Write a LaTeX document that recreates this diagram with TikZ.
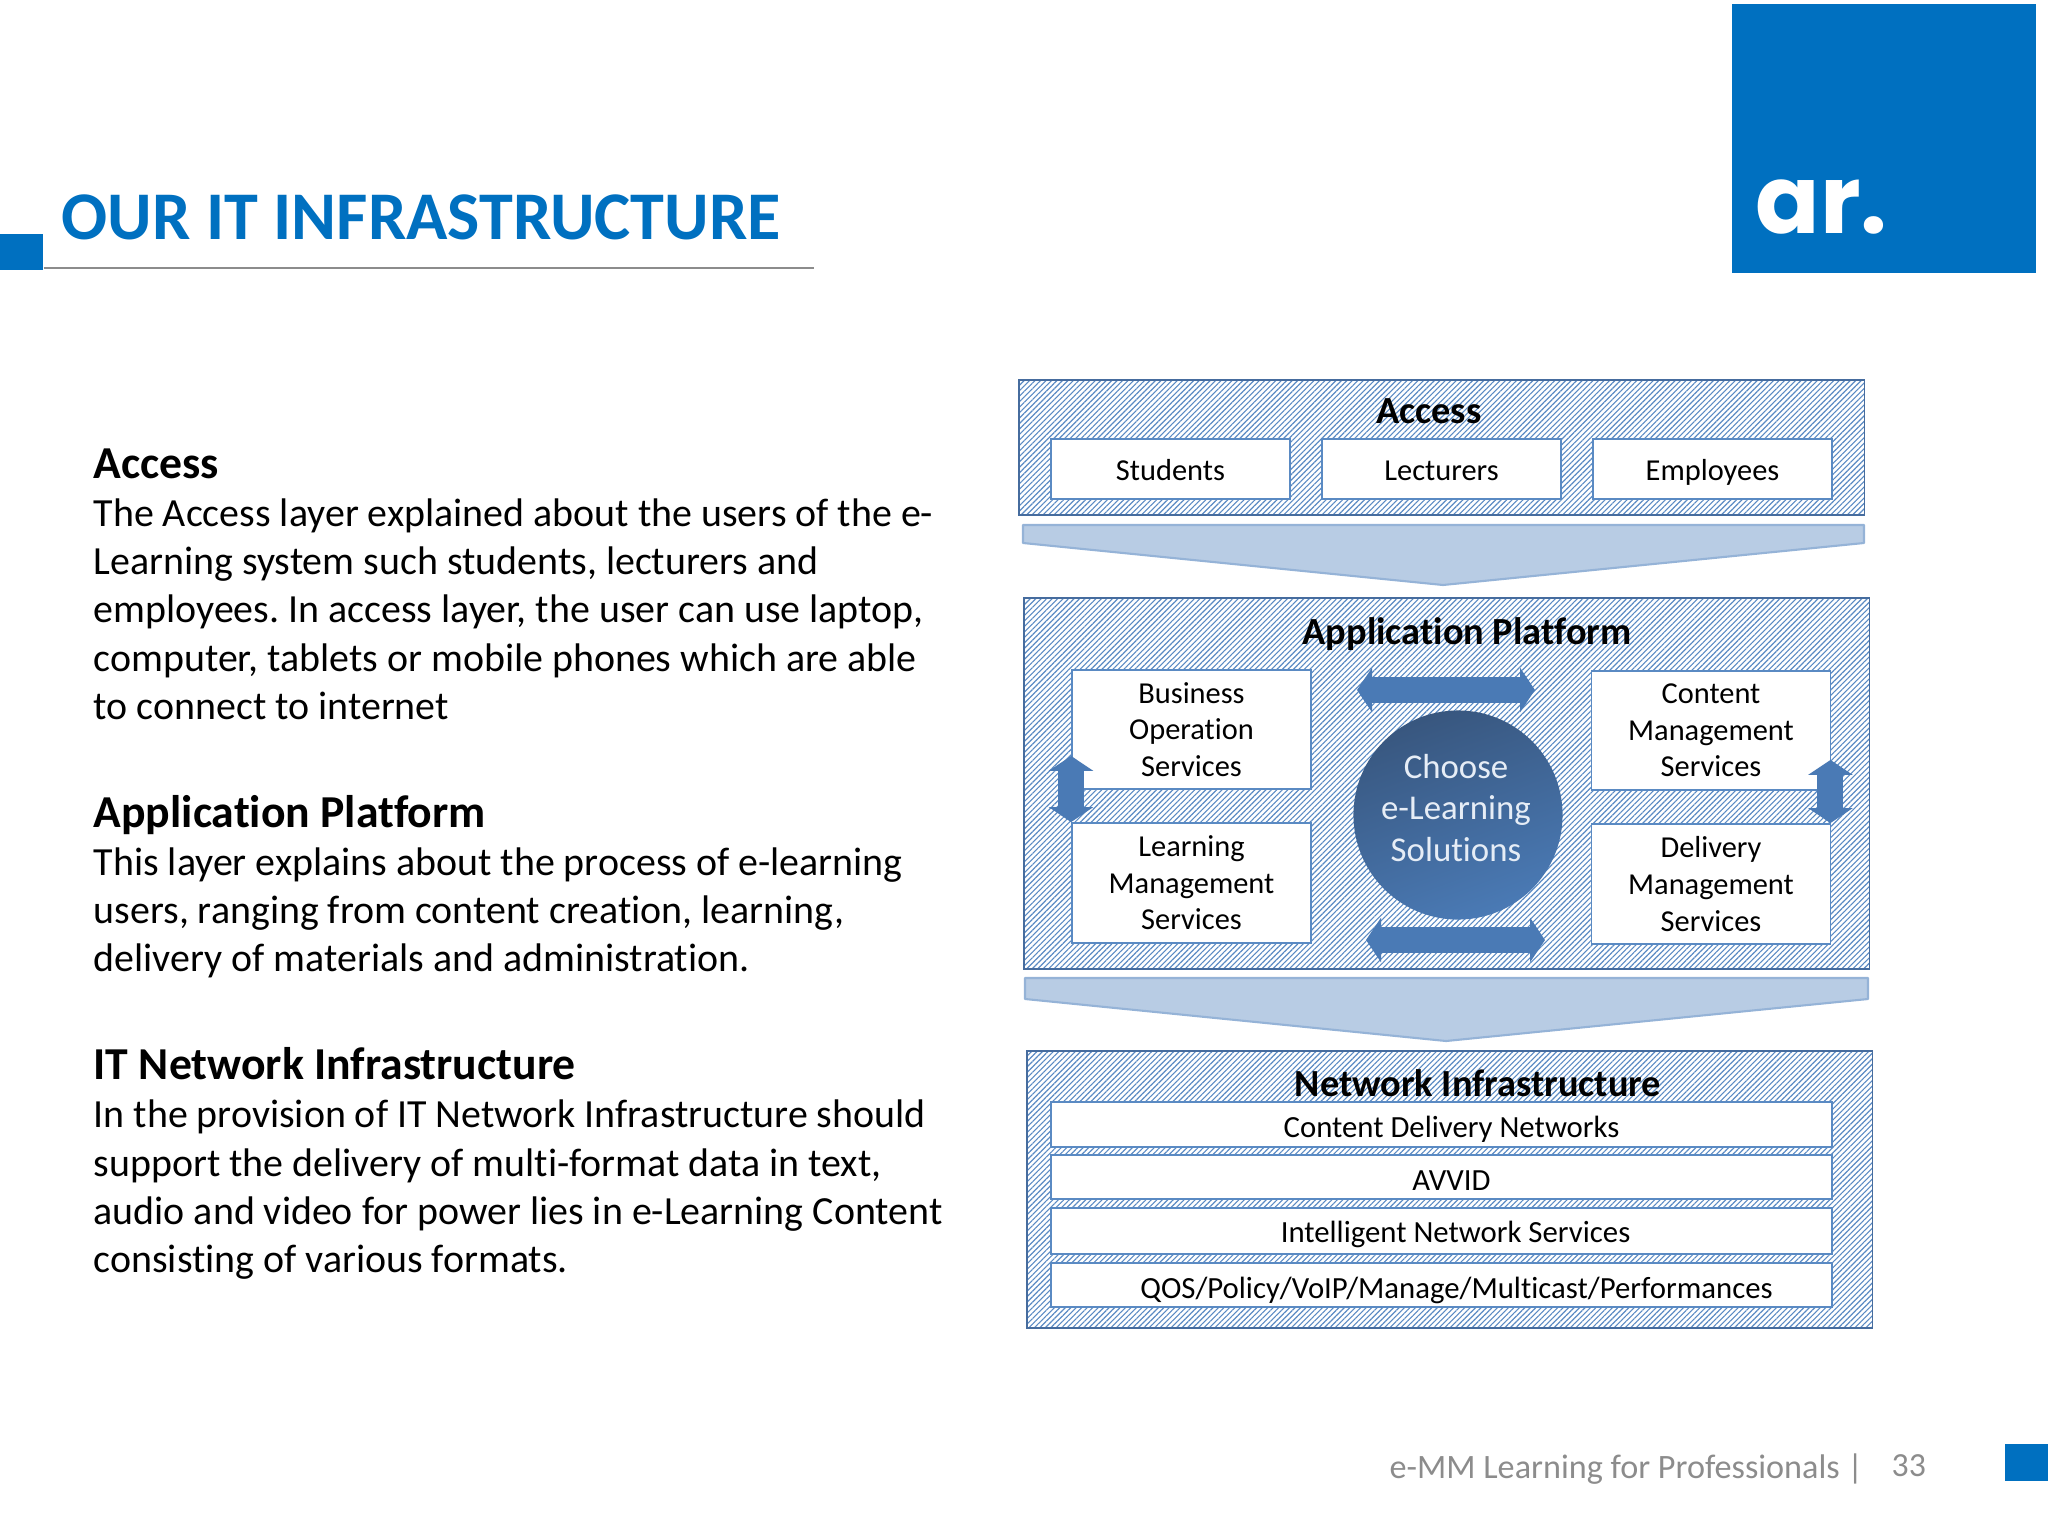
\documentclass[tikz,border=0pt]{standalone}
\usepackage{fontspec}
\setmainfont{Carlito}[Ligatures={NoCommon}]
\newfontfamily\logofont{Poppins}
\usetikzlibrary{arrows.meta, positioning, calc, patterns.meta, shapes.geometric}
\definecolor{brand}{RGB}{0, 112, 192}
\definecolor{hatchC}{RGB}{90, 138, 195}
\definecolor{edgeC}{RGB}{70, 108, 158}
\definecolor{chevC}{RGB}{184, 204, 228}
\definecolor{chevE}{RGB}{149, 179, 215}
\definecolor{arrowC}{RGB}{74, 122, 181}
\definecolor{footC}{RGB}{140, 140, 140}
\newcommand{\bodysize}{\fontsize{11.35pt}{13.7pt}\selectfont}
\newcommand{\headsize}{\fontsize{13pt}{13.7pt}\selectfont\bfseries}
\frenchspacing

\begin{document}
\begin{tikzpicture}[x=0.01cm, y=-0.01cm, font=\fontsize{8.65pt}{10.4pt}\selectfont,
        layer/.style={rectangle, draw=edgeC, line width=0.42pt, inner sep=0pt,
                  pattern={Lines[angle=45,distance=1.1pt,line width=0.32pt]}, pattern color=hatchC},
        item/.style={rectangle, draw=hatchC, line width=0.5pt, fill=white, inner sep=0pt, align=center,
                  minimum width=2.39cm},
        row/.style={item, minimum width=7.81cm, text height=9.2pt, text depth=1.6pt, font=\fontsize{8.75pt}{10pt}\selectfont},
        ltitle/.style={inner sep=0pt, font=\fontsize{10.9pt}{12pt}\selectfont\bfseries},
        chev/.style={draw=chevE, line width=0.6pt, fill=chevC, line join=round},
        dbl/.style={draw=arrowC, line width=0.26cm, {Triangle[length=0.15cm,width=0.44cm]}-{Triangle[length=0.15cm,width=0.44cm]}},
        para/.style={inner sep=0pt, anchor=north west, align=left, font=\bodysize}]
        \useasboundingbox (0,0) rectangle (2048,1536);

        \node[fill=brand, inner sep=0pt, minimum width=3.04cm, minimum height=2.69cm] (logo) at (1884,138.5) {};
        \node[inner sep=0pt, anchor=base west, text=white, font=\fontsize{27pt}{27pt}\logofont\bfseries] (logotext) at (1755,233) {ar.};
        \node[fill=brand, inner sep=0pt, minimum width=0.43cm, minimum height=0.36cm] (mark) at (21.5,252) {};
        \node[inner sep=0pt, anchor=base west, text=brand, font=\fontsize{19.4pt}{22pt}\selectfont\bfseries] (title) at (61,239) {OUR IT INFRASTRUCTURE};
        \coordinate (ruleEnd) at (814,268);
        \draw[footC, line width=0.55pt] (mark.south east |- ruleEnd) -- (ruleEnd);

        \node[para] (pAccess) at (93,448) {{\headsize Access}\\The Access layer explained about the users of the e-\\Learning system such students, lecturers and\\employees. In access layer, the user can use laptop,\\computer, tablets or mobile phones which are able\\to connect to internet};
        \node[para] (pApp) at (93,794.5) {{\headsize Application Platform}\\This layer explains about the process of e-learning\\users, ranging from content creation, learning,\\delivery of materials and administration.};
        \node[para] (pNet) at (93,1047) {{\headsize IT Network Infrastructure}\\In the provision of IT Network Infrastructure should\\support the delivery of multi-format data in text,\\audio and video for power lies in e-Learning Content\\consisting of various formats.};

        \node[layer, minimum width=8.45cm, minimum height=1.35cm] (access) at (1441.5,447.5) {};
        \node[ltitle] (accessT) at (1429,411) {Access};
        \node[item, minimum height=0.60cm, text height=8.5pt, text depth=1.8pt] (students) at (1170.5,469) {Students};
        \node[item, minimum height=0.60cm, text height=8.5pt, text depth=1.8pt] (lecturers) at (1441.5,469) {Lecturers};
        \node[item, minimum height=0.60cm, text height=8.5pt, text depth=1.8pt] (employees) at (1712.5,469) {Employees};

        \draw[chev] (1023,525) -- (1864,525) -- (1864,543) -- (1443,585) -- (1023,543) -- cycle;

        \node[layer, minimum width=8.45cm, minimum height=3.71cm] (app) at (1446.5,783.5) {};
        \node[ltitle] (appT) at (1467,634) {Application Platform};
        \node[item, minimum height=1.19cm] (business) at (1191.5,729.5) {Business\\Operation\\Services};
        \node[item, minimum height=1.19cm] (content) at (1711,730.5) {Content\\Management\\Services};
        \node[item, minimum height=1.20cm] (learning) at (1191.5,883) {Learning\\Management\\Services};
        \node[item, minimum height=1.20cm] (delivery) at (1711,884) {Delivery\\Management\\Services};
        \node[circle, inner sep=0pt, minimum size=2.09cm, draw=none, left color=edgeC!80!black, right color=arrowC, shading angle=20] (choose) at (1458,815) {};
        \node[inner sep=0pt, text=white!85!hatchC, align=center, font=\fontsize{9.9pt}{11.7pt}\selectfont] (chooseT) at (1456,808) {Choose\\e-Learning\\Solutions};

        \coordinate (topL) at (1357,690);
        \coordinate (topR) at (1535,690);
        \coordinate (botL) at (1366,940);
        \coordinate (botR) at (1545,940);
        \draw[dbl] (topL) -- (topR);
        \draw[dbl] (botL) -- (botR);
        \draw[dbl] ($(business.south west)+(0,-34)$) -- (learning.north west);
        \draw[dbl] ($(content.south east)+(-1,-31)$) -- ($(delivery.north east)+(-1,0)$);

        \draw[chev] (1025,978) -- (1868,978) -- (1868,999) -- (1446,1041) -- (1025,999) -- cycle;

        \node[layer, minimum width=8.45cm, minimum height=2.77cm] (net) at (1449.5,1189.5) {};
        \node[ltitle] (netT) at (1478,1083) {Network Infrastructure};
        \node[row, minimum height=0.45cm] (cdn) at (1441.5,1124.5) {\hspace{0.2cm}Content Delivery Networks};
        \node[row, minimum height=0.44cm] (avvid) at (1441.5,1177) {\hspace{0.2cm}AVVID};
        \node[row, minimum height=0.46cm, text height=8pt] (ins) at (1441.5,1231) {\hspace{0.28cm}Intelligent Network Services};
        \node[row, minimum height=0.44cm] (qos) at (1441.5,1285) {\hspace{0.3cm}QOS/Policy/VoIP/Manage/Multicast/Performances};

        \node[inner sep=0pt, anchor=base west, text=footC, font=\fontsize{9.72pt}{12pt}\selectfont] (foot) at (1389,1478) {e-MM Learning for Professionals |};
        \node[inner sep=0pt, anchor=base west, text=footC, font=\fontsize{9.6pt}{12pt}\selectfont] (page) at (1891,1476) {33};
        \node[fill=brand, inner sep=0pt, minimum width=0.43cm, minimum height=0.37cm] (footmark) at (2026.5,1462.5) {};
    \end{tikzpicture}
\end{document}
